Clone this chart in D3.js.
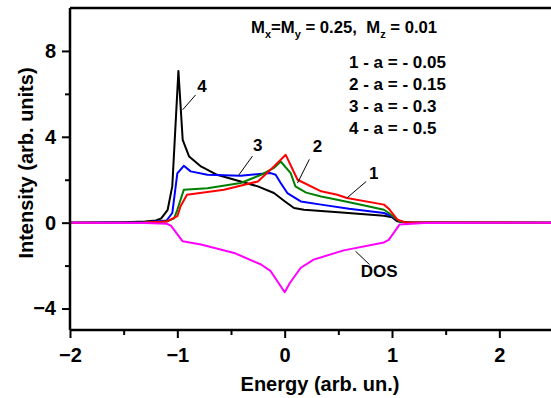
<!DOCTYPE html>
<html>
<head>
<meta charset="utf-8">
<script src="https://cdn.jsdelivr.net/npm/d3@7"></script>
<style>
  body { margin: 0; background: #fff; }
  text { font-family: Arial, "Liberation Sans", sans-serif; font-weight: bold; white-space: pre; }
</style>
</head>
<body>
<div id="chart"></div>
<script>
// curve 1, a = -0.05 (red)
const energy1 = [-2, -1.3, -1.1, -1.0, -0.97, -0.91, -0.565, -0.25, -0.1, 0.01, 0.12, 0.34, 0.49, 0.58, 0.925, 0.97, 1.05, 1.12, 2.5];
const int1    = [0, 0.01, 0.05, 0.3, 0.76, 1.3, 1.53, 1.92, 2.62, 3.16, 2.0, 1.46, 1.3, 1.15, 0.84, 0.65, 0.14, 0.02, 0];
// curve 2, a = -0.15 (green)
const energy2 = [-2, -1.3, -1.1, -1.03, -1.0, -0.94, -0.72, -0.41, -0.22, -0.1, -0.037, 0.056, 0.1, 0.2, 0.34, 0.49, 0.7, 0.925, 0.97, 1.07, 1.15, 2.5];
const int2    = [0, 0.01, 0.05, 0.2, 0.6, 1.53, 1.6, 1.85, 2.23, 2.55, 2.85, 2.31, 1.69, 1.4, 1.22, 1.07, 0.85, 0.6, 0.45, 0.05, 0, 0];
// curve 3, a = -0.3 (blue)
const energy3 = [-2, -1.3, -1.1, -1.047, -1.0, -0.94, -0.876, -0.72, -0.41, -0.13, -0.084, -0.037, 0.025, 0.15, 0.34, 0.6, 0.925, 1.0, 1.07, 1.15, 2.5];
const int3    = [0, 0.02, 0.1, 0.45, 2.3, 2.65, 2.39, 2.23, 2.19, 2.31, 2.23, 1.85, 1.38, 0.99, 0.84, 0.65, 0.45, 0.3, 0.05, 0, 0];
// curve 4, a = -0.5 (black)
const energy4 = [-2, -1.5, -1.3, -1.2, -1.15, -1.09, -1.047, -0.99, -0.95, -0.89, -0.78, -0.63, -0.41, -0.25, -0.1, 0.0, 0.087, 0.18, 0.5, 0.925, 1.0, 1.05, 1.15, 2.5];
const int4    = [0, 0.02, 0.05, 0.1, 0.2, 0.6, 1.7, 7.07, 3.86, 3.08, 2.62, 2.23, 1.92, 1.69, 1.38, 1.0, 0.68, 0.6, 0.48, 0.32, 0.25, 0.06, 0.01, 0];
// density of states (magenta)
const energyDos = [-2, -1.3, -1.1, -1.06, -0.95, -0.78, -0.47, -0.22, -0.13, -0.037, 0, 0.05, 0.15, 0.27, 0.55, 0.925, 0.97, 1.07, 1.3, 2.5];
const intDos    = [0, -0.02, -0.05, -0.14, -0.87, -1.02, -1.41, -1.95, -2.26, -2.96, -3.24, -2.8, -2.1, -1.72, -1.29, -0.92, -0.8, -0.09, -0.02, 0];

const xTicks = [-2, -1, 0, 1, 2];
const xMinor = [-1.5, -0.5, 0.5, 1.5, 2.5];
const yTicks = [-4, 0, 4, 8];
const yMinor = [-2, 2, 6];
const legendLines = ['1 - a = - 0.05', '2 - a = - 0.15', '3 - a = - 0.3', '4 - a = - 0.5'];

const width = 551, height = 398;
const x = d3.scaleLinear().domain([-2, 2.5]).range([70, 553]);
const y = d3.scaleLinear().domain([-5, 10]).range([330, 8]);

const svg = d3.select('#chart').append('svg')
    .attr('width', width)
    .attr('height', height);

const series = [
  {e: energy4, v: int4, color: '#000000'},
  {e: energy3, v: int3, color: '#0000ff'},
  {e: energy2, v: int2, color: '#008000'},
  {e: energy1, v: int1, color: '#ff0000'},
  {e: energyDos, v: intDos, color: '#ff00ff'}
];

const line = d3.line()
    .x(d => x(d[0]))
    .y(d => y(d[1]));

svg.append('g').selectAll('path')
    .data(series)
    .join('path')
    .attr('d', s => line(s.e.map((e, i) => [e, s.v[i]])))
    .attr('fill', 'none')
    .attr('stroke', s => s.color)
    .attr('stroke-width', 2)
    .attr('stroke-linejoin', 'round');

// axes
const xAxis = svg.append('g')
    .attr('transform', `translate(0,${y(-5)})`)
    .call(d3.axisBottom(x).tickValues(xTicks).tickFormat(d3.format('d')).tickSize(8).tickPadding(10));
svg.append('g')
    .attr('transform', `translate(0,${y(-5)})`)
    .call(d3.axisBottom(x).tickValues(xMinor).tickFormat('').tickSize(5))
    .select('.domain').remove();
const yAxis = svg.append('g')
    .attr('transform', `translate(${x(-2)},0)`)
    .call(d3.axisLeft(y).tickValues(yTicks).tickFormat(d3.format('d')).tickSize(8).tickPadding(6));
svg.append('g')
    .attr('transform', `translate(${x(-2)},0)`)
    .call(d3.axisLeft(y).tickValues(yMinor).tickFormat('').tickSize(5))
    .select('.domain').remove();

svg.selectAll('.domain').attr('stroke-width', 2.5);
svg.selectAll('.tick line').attr('stroke-width', 2);
svg.selectAll('.tick text').style('font-size', '20px').attr('fill', '#000');
xAxis.select('.domain').attr('d', `M${x(-2)},0H${x(2.5)}`);
yAxis.select('.domain').attr('d', `M0,${y(-5)}V${y(10)}`);

// top frame line
svg.append('line')
    .attr('x1', x(-2)).attr('x2', x(2.5))
    .attr('y1', y(10)).attr('y2', y(10))
    .attr('stroke', '#000').attr('stroke-width', 2.5);

// axis titles
svg.append('text')
    .attr('x', 320).attr('y', 391)
    .attr('text-anchor', 'middle')
    .style('font-size', '20px')
    .text('Energy (arb. un.)');
svg.append('text')
    .attr('transform', 'translate(33,163) rotate(-90)')
    .attr('text-anchor', 'middle')
    .style('font-size', '20px')
    .text('Intensity (arb. units)');

// parameters
const title = svg.append('text')
    .attr('x', 251).attr('y', 33)
    .style('font-size', '16.7px');
title.append('tspan').text('M');
title.append('tspan').attr('dy', 5).style('font-size', '11px').text('x');
title.append('tspan').attr('dy', -5).text('=M');
title.append('tspan').attr('dy', 5).style('font-size', '11px').text('y');
title.append('tspan').attr('dy', -5).text(' = 0.25,  M');
title.append('tspan').attr('dy', 5).style('font-size', '11px').text('z');
title.append('tspan').attr('dy', -5).text(' = 0.01');

svg.append('g').selectAll('text')
    .data(legendLines)
    .join('text')
    .attr('x', 349)
    .attr('y', (d, i) => 68 + i * 22)
    .style('font-size', '17px')
    .text(d => d);

// curve labels with leader lines
const labels = [
  {t: '4', lx: -0.77, ly: 6.35, a: [-0.83, 5.95], b: [-0.95, 5.26]},
  {t: '3', lx: -0.25, ly: 3.63, a: [-0.3, 3.1], b: [-0.43, 2.2]},
  {t: '2', lx: 0.305, ly: 3.55, a: [0.23, 2.95], b: [0.12, 1.85]},
  {t: '1', lx: 0.83, ly: 2.31, a: [0.76, 1.92], b: [0.58, 1.15]},
  {t: 'DOS', lx: 0.88, ly: -2.27, a: [0.66, -1.33], b: [0.79, -1.95]}
];
const lab = svg.append('g');
lab.selectAll('line')
    .data(labels)
    .join('line')
    .attr('x1', d => x(d.a[0])).attr('y1', d => y(d.a[1]))
    .attr('x2', d => x(d.b[0])).attr('y2', d => y(d.b[1]))
    .attr('stroke', '#000').attr('stroke-width', 1);
lab.selectAll('text')
    .data(labels)
    .join('text')
    .attr('x', d => x(d.lx)).attr('y', d => y(d.ly))
    .attr('text-anchor', 'middle')
    .attr('dy', '0.35em')
    .style('font-size', '17px')
    .text(d => d.t);
</script>
</body>
</html>
